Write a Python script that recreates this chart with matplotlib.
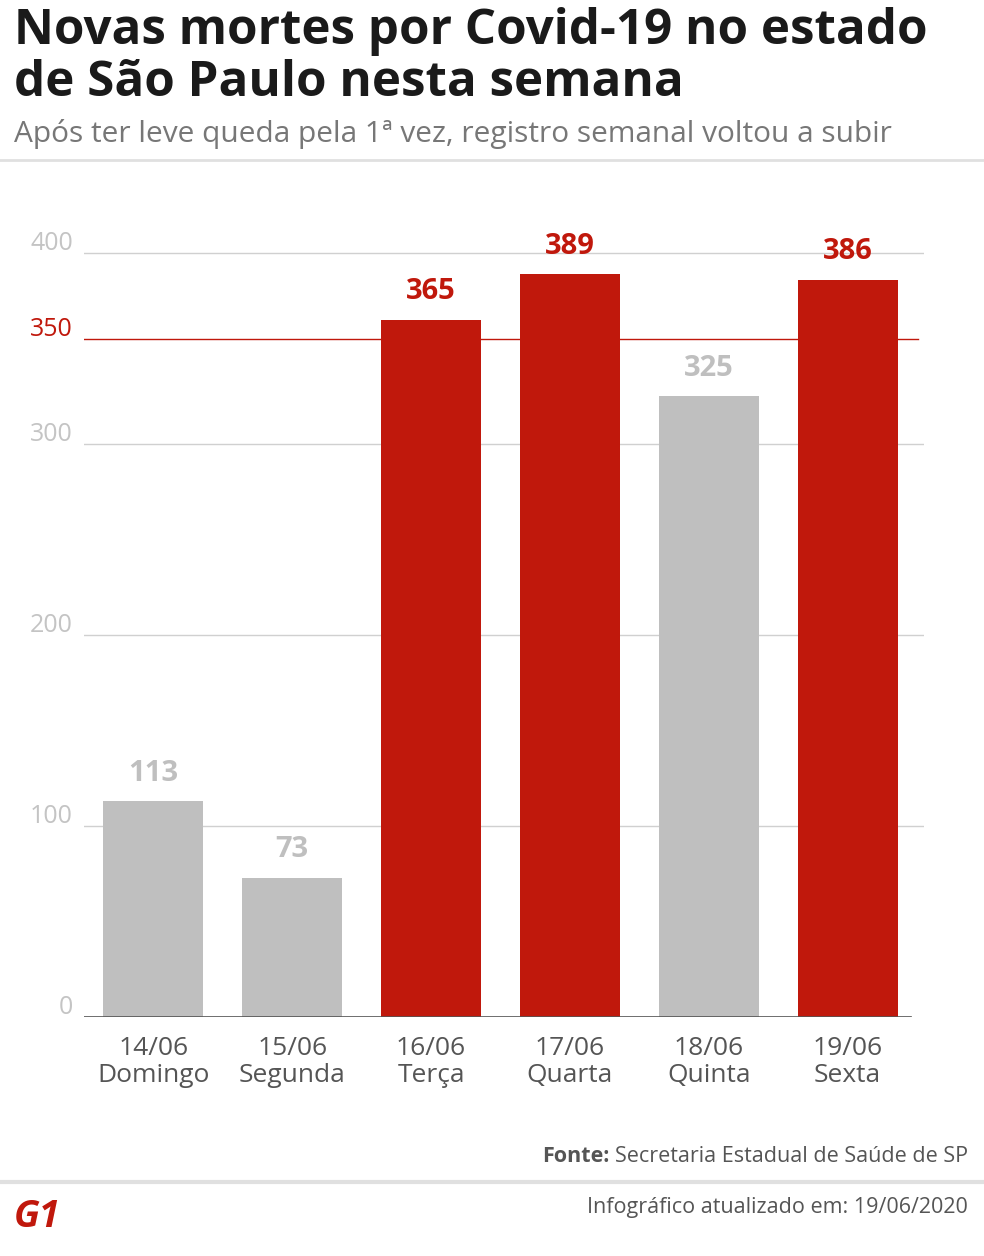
import matplotlib.pyplot as plt

plt.rcParams['font.family'] = ['Open Sans', 'DejaVu Sans']

datas = ['14/06', '15/06', '16/06', '17/06', '18/06', '19/06']
dias = ['Domingo', 'Segunda', 'Terça', 'Quarta', 'Quinta', 'Sexta']
mortes = [113, 73, 365, 389, 325, 386]
yticks = [0, 100, 200, 300, 350, 400]

RED = '#c0180c'
GRAY = '#bfbfbf'
W, H = 984, 1256

fig = plt.figure(figsize=(W / 100, H / 100), dpi=100)
# axes: x 84..924 px, y from 1017 (0) to 253 (400)
y0, y400 = 1017, 253
top_val = 400 + (y400 - 215) / ((y0 - y400) / 400)
ax = fig.add_axes([84 / W, (H - y0) / H, 840 / W, (y0 - 215) / H])
ax.set_xlim(-0.5, 5.55)
ax.set_ylim(0, top_val)

for v in [100, 200, 300, 400]:
    ax.axhline(v, color='#d0d0d0', lw=1, zorder=0)
# the red reference line sits a little above 350 in the original
ax.axhline(355, color=RED, lw=1, zorder=0, xmax=0.993)

colors = [RED if v > 350 else GRAY for v in mortes]
ax.bar(range(len(mortes)), mortes, width=0.72, color=colors, zorder=2)
for i, v in enumerate(mortes):
    ax.text(i, v + 7, str(v), ha='center', va='bottom', fontsize=21,
            fontweight='bold', color=colors[i])

ax.axhline(0, color='#555555', lw=1.2, xmax=0.985, zorder=3)
for s in ax.spines.values():
    s.set_visible(False)
ax.set_xticks(range(len(mortes)))
ax.set_xticklabels([f'{d}\n{n}' for d, n in zip(datas, dias)], fontsize=19,
                   color='#555555', linespacing=1.1)
ax.tick_params(axis='x', length=0, pad=14)
ax.set_yticks([])
for v in yticks:
    yy = 355 if v == 350 else v
    ax.text(-0.58, yy + 5, str(v), ha='right', va='center', fontsize=18,
            color=RED if v == 350 else '#c4c4c4')

fig.text(14 / W, 1 - 32 / H, 'Novas mortes por Covid-19 no estado', fontsize=35.5,
         fontweight='bold', va='center', color='#1a1a1a')
fig.text(14 / W, 1 - 84 / H, 'de São Paulo nesta semana', fontsize=35.5,
         fontweight='bold', va='center', color='#1a1a1a')
fig.text(14 / W, 1 - 134 / H, 'Após ter leve queda pela 1ª vez, registro semanal voltou a subir',
         fontsize=21.5, va='center', color='#777777')
fig.add_artist(plt.Line2D([0, 1], [1 - 160 / H] * 2, color='#e0e0e0', lw=2))
fig.add_artist(plt.Line2D([0, 1], [1 - 1182 / H] * 2, color='#e0e0e0', lw=3))

fig.text(968 / W, 1 - 1157 / H, 'Secretaria Estadual de Saúde de SP', fontsize=15.5,
         ha='right', va='center', color='#555555')
fig.text(610 / W, 1 - 1157 / H, 'Fonte:', fontsize=15.5, fontweight='bold',
         ha='right', va='center', color='#555555')
fig.text(968 / W, 1 - 1207 / H, 'Infográfico atualizado em: 19/06/2020', fontsize=15.5,
         ha='right', va='center', color='#555555')
fig.text(14 / W, 1 - 1217 / H, 'G1', fontsize=27, fontweight='bold', style='italic',
         va='center', color=RED)

fig.savefig('out.png', dpi=100)
